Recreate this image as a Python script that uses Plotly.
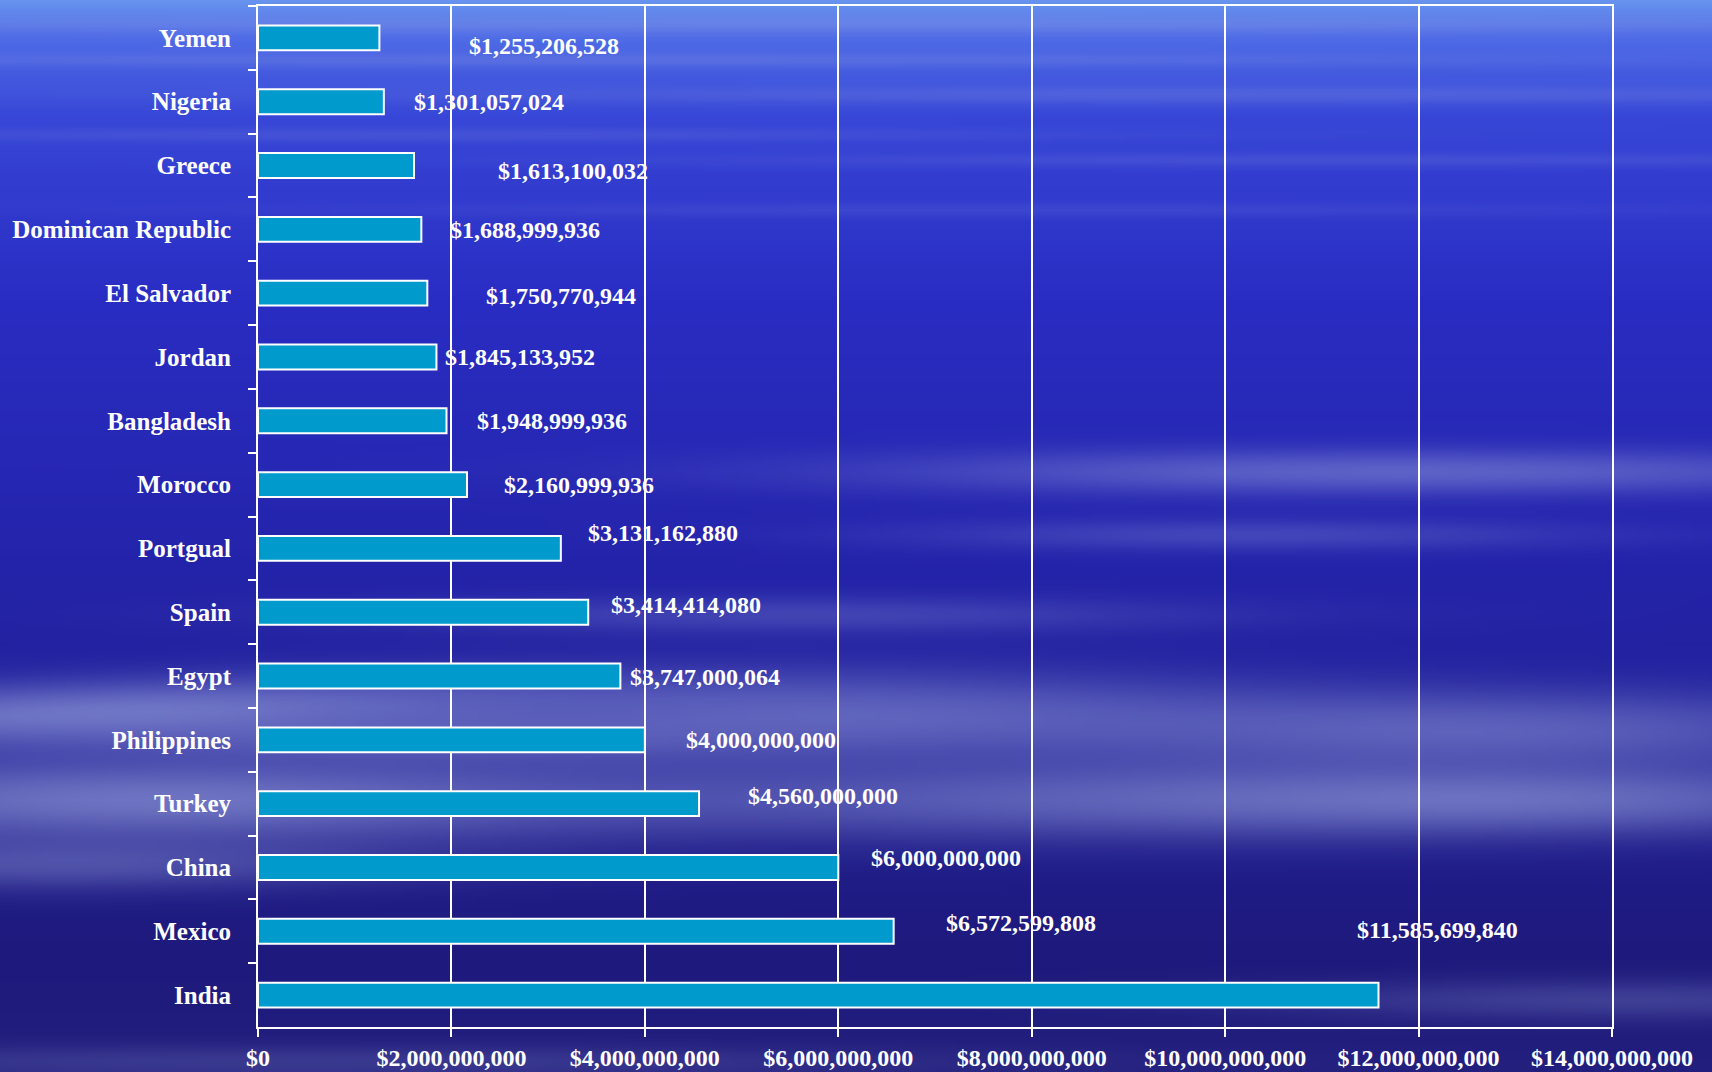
import base64, struct, zlib
import numpy as np
import plotly.graph_objects as go

# ---------------- data ----------------
countries = ["Yemen", "Nigeria", "Greece", "Dominican Republic", "El Salvador", "Jordan",
             "Bangladesh", "Morocco", "Portgual", "Spain", "Egypt", "Philippines",
             "Turkey", "China", "Mexico", "India"]
remittances = [1255206528, 1301057024, 1613100032, 1688999936, 1750770944, 1845133952,
               1948999936, 2160999936, 3131162880, 3414414080, 3747000064, 4000000000,
               4560000000, 6000000000, 6572599808, 11585699840]
tick_values = [0, 2e9, 4e9, 6e9, 8e9, 10e9, 12e9, 14e9]
tick_labels = ["$0", "$2,000,000,000", "$4,000,000,000", "$6,000,000,000",
               "$8,000,000,000", "$10,000,000,000", "$12,000,000,000", "$14,000,000,000"]

# label displacement (pixels) of each data label from the end of its bar
label_dx = [88, 28, 82, 27, 57, 7, 28, 35, 25, 21, 8, 39, 47, 31, 50, -24]
label_dy = [-8, 0, -5, -1, -3, 0, 0, 0, 15, 7, -1, 0, 8, 9, 8, 65]

# ---------------- background picture ----------------
W_FIG, H_FIG = 1712, 1072
SC = 4
w, h = W_FIG // SC, H_FIG // SC
X, Y = np.meshgrid((np.arange(w) + 0.5) * SC, (np.arange(h) + 0.5) * SC)

stops_y = [0, 30, 120, 300, 550, 800, 950, 1072]
stops_c = [(105, 150, 240), (80, 110, 232), (55, 70, 215), (42, 45, 195),
           (36, 36, 172), (32, 30, 145), (30, 26, 125), (34, 30, 125)]
base = np.zeros((h, w, 3))
for k in range(3):
    base[..., k] = np.interp(Y, stops_y, [c[k] for c in stops_c])

streaks = [
    # cx, cy, sx, sy, tilt, alpha
    (100, 712, 330, 22, -0.03, 0.6),
    (150, 800, 340, 30, 0.0, 0.6),
    (60, 865, 250, 18, 0.0, 0.35),
    (420, 740, 250, 16, 0.0, 0.3),
    (850, 715, 300, 30, 0.0, 0.45),
    (1150, 800, 420, 28, 0.0, 0.45),
    (1500, 730, 300, 28, 0.0, 0.45),
    (1560, 800, 250, 22, 0.0, 0.4),
    (1400, 472, 380, 16, 0.0, 0.45),
    (1250, 535, 250, 11, 0.0, 0.25),
    (800, 615, 300, 13, 0.0, 0.25),
    (856, 25, 900, 7, 0.0, 0.25),
    (600, 60, 700, 5, 0.0, 0.2),
    (1250, 95, 600, 6, 0.0, 0.2),
    (400, 135, 500, 5, 0.0, 0.15),
    (1350, 160, 500, 5, 0.0, 0.15),
    (1000, 210, 500, 5, 0.0, 0.12),
    (300, 1062, 500, 12, 0.0, 0.2),
    (1620, 1000, 250, 14, 0.0, 0.25),
]
keep = np.ones((h, w))
for cx, cy, sx, sy, tilt, a in streaks:
    g = a * np.exp(-0.5 * ((X - cx) / sx) ** 2 - 0.5 * ((Y - cy - tilt * (X - cx)) / sy) ** 2)
    keep *= (1 - g)
alpha = (1 - keep)[..., None]
cloud = np.array([160, 170, 225])
img = np.clip(base * (1 - alpha) + cloud * alpha, 0, 255).astype(np.uint8)

def to_png(arr):
    hh, ww, _ = arr.shape
    raw = b"".join(b"\x00" + arr[r].tobytes() for r in range(hh))
    def chunk(tag, data):
        return struct.pack(">I", len(data)) + tag + data + struct.pack(">I", zlib.crc32(tag + data) & 0xffffffff)
    return (b"\x89PNG\r\n\x1a\n" + chunk(b"IHDR", struct.pack(">IIBBBBB", ww, hh, 8, 2, 0, 0, 0))
            + chunk(b"IDAT", zlib.compress(raw, 9)) + chunk(b"IEND", b""))

bg_uri = "data:image/png;base64," + base64.b64encode(to_png(img)).decode()

# ---------------- figure ----------------
ML, MR, MT, MB = 258, 100, 6, 45
PW, PH = W_FIG - ML - MR, H_FIG - MT - MB
FONT = "Times New Roman, Liberation Serif, serif"

fig = go.Figure(go.Bar(
    x=remittances, y=countries, orientation="h",
    marker=dict(color="#009ACD", line=dict(color="white", width=2)),
    hoverinfo="skip",
))

for c, v, dx, dy in zip(countries, remittances, label_dx, label_dy):
    fig.add_annotation(x=v, y=c, text="$" + f"{v:,}", showarrow=False,
                       xanchor="left", yanchor="middle", xshift=dx, yshift=dy,
                       font=dict(family=FONT, size=24, color="white", weight="bold"))

fig.update_layout(
    width=W_FIG, height=H_FIG,
    margin=dict(l=ML, r=MR, t=MT, b=MB, pad=0),
    paper_bgcolor="#26228a", plot_bgcolor="rgba(0,0,0,0)",
    bargap=0.61, showlegend=False,
    font=dict(family=FONT, color="white"),
    images=[dict(source=bg_uri, xref="paper", yref="paper",
                 x=-ML / PW, y=1 + MT / PH, sizex=W_FIG / PW, sizey=H_FIG / PH,
                 xanchor="left", yanchor="top", sizing="stretch", layer="below")],
)
fig.update_xaxes(range=[0, 14e9], tickvals=tick_values, ticktext=tick_labels,
                 automargin=False,
                 showgrid=True, gridcolor="white", gridwidth=1.5,
                 showline=True, linecolor="white", linewidth=2, mirror=True,
                 ticks="outside", ticklen=8, tickwidth=2, tickcolor="white",
                 ticklabelstandoff=0, zeroline=False,
                 tickfont=dict(family=FONT, size=24, color="white", weight="bold"))
fig.update_yaxes(range=[len(countries) - 0.5, -0.5], tickson="boundaries",
                 automargin=False,
                 showgrid=False, showline=True, linecolor="white", linewidth=2, mirror=True,
                 ticks="outside", ticklen=8, tickwidth=2, tickcolor="white",
                 ticklabelstandoff=20,
                 tickfont=dict(family=FONT, size=25, color="white", weight="bold"))

fig.write_html("out.html")
